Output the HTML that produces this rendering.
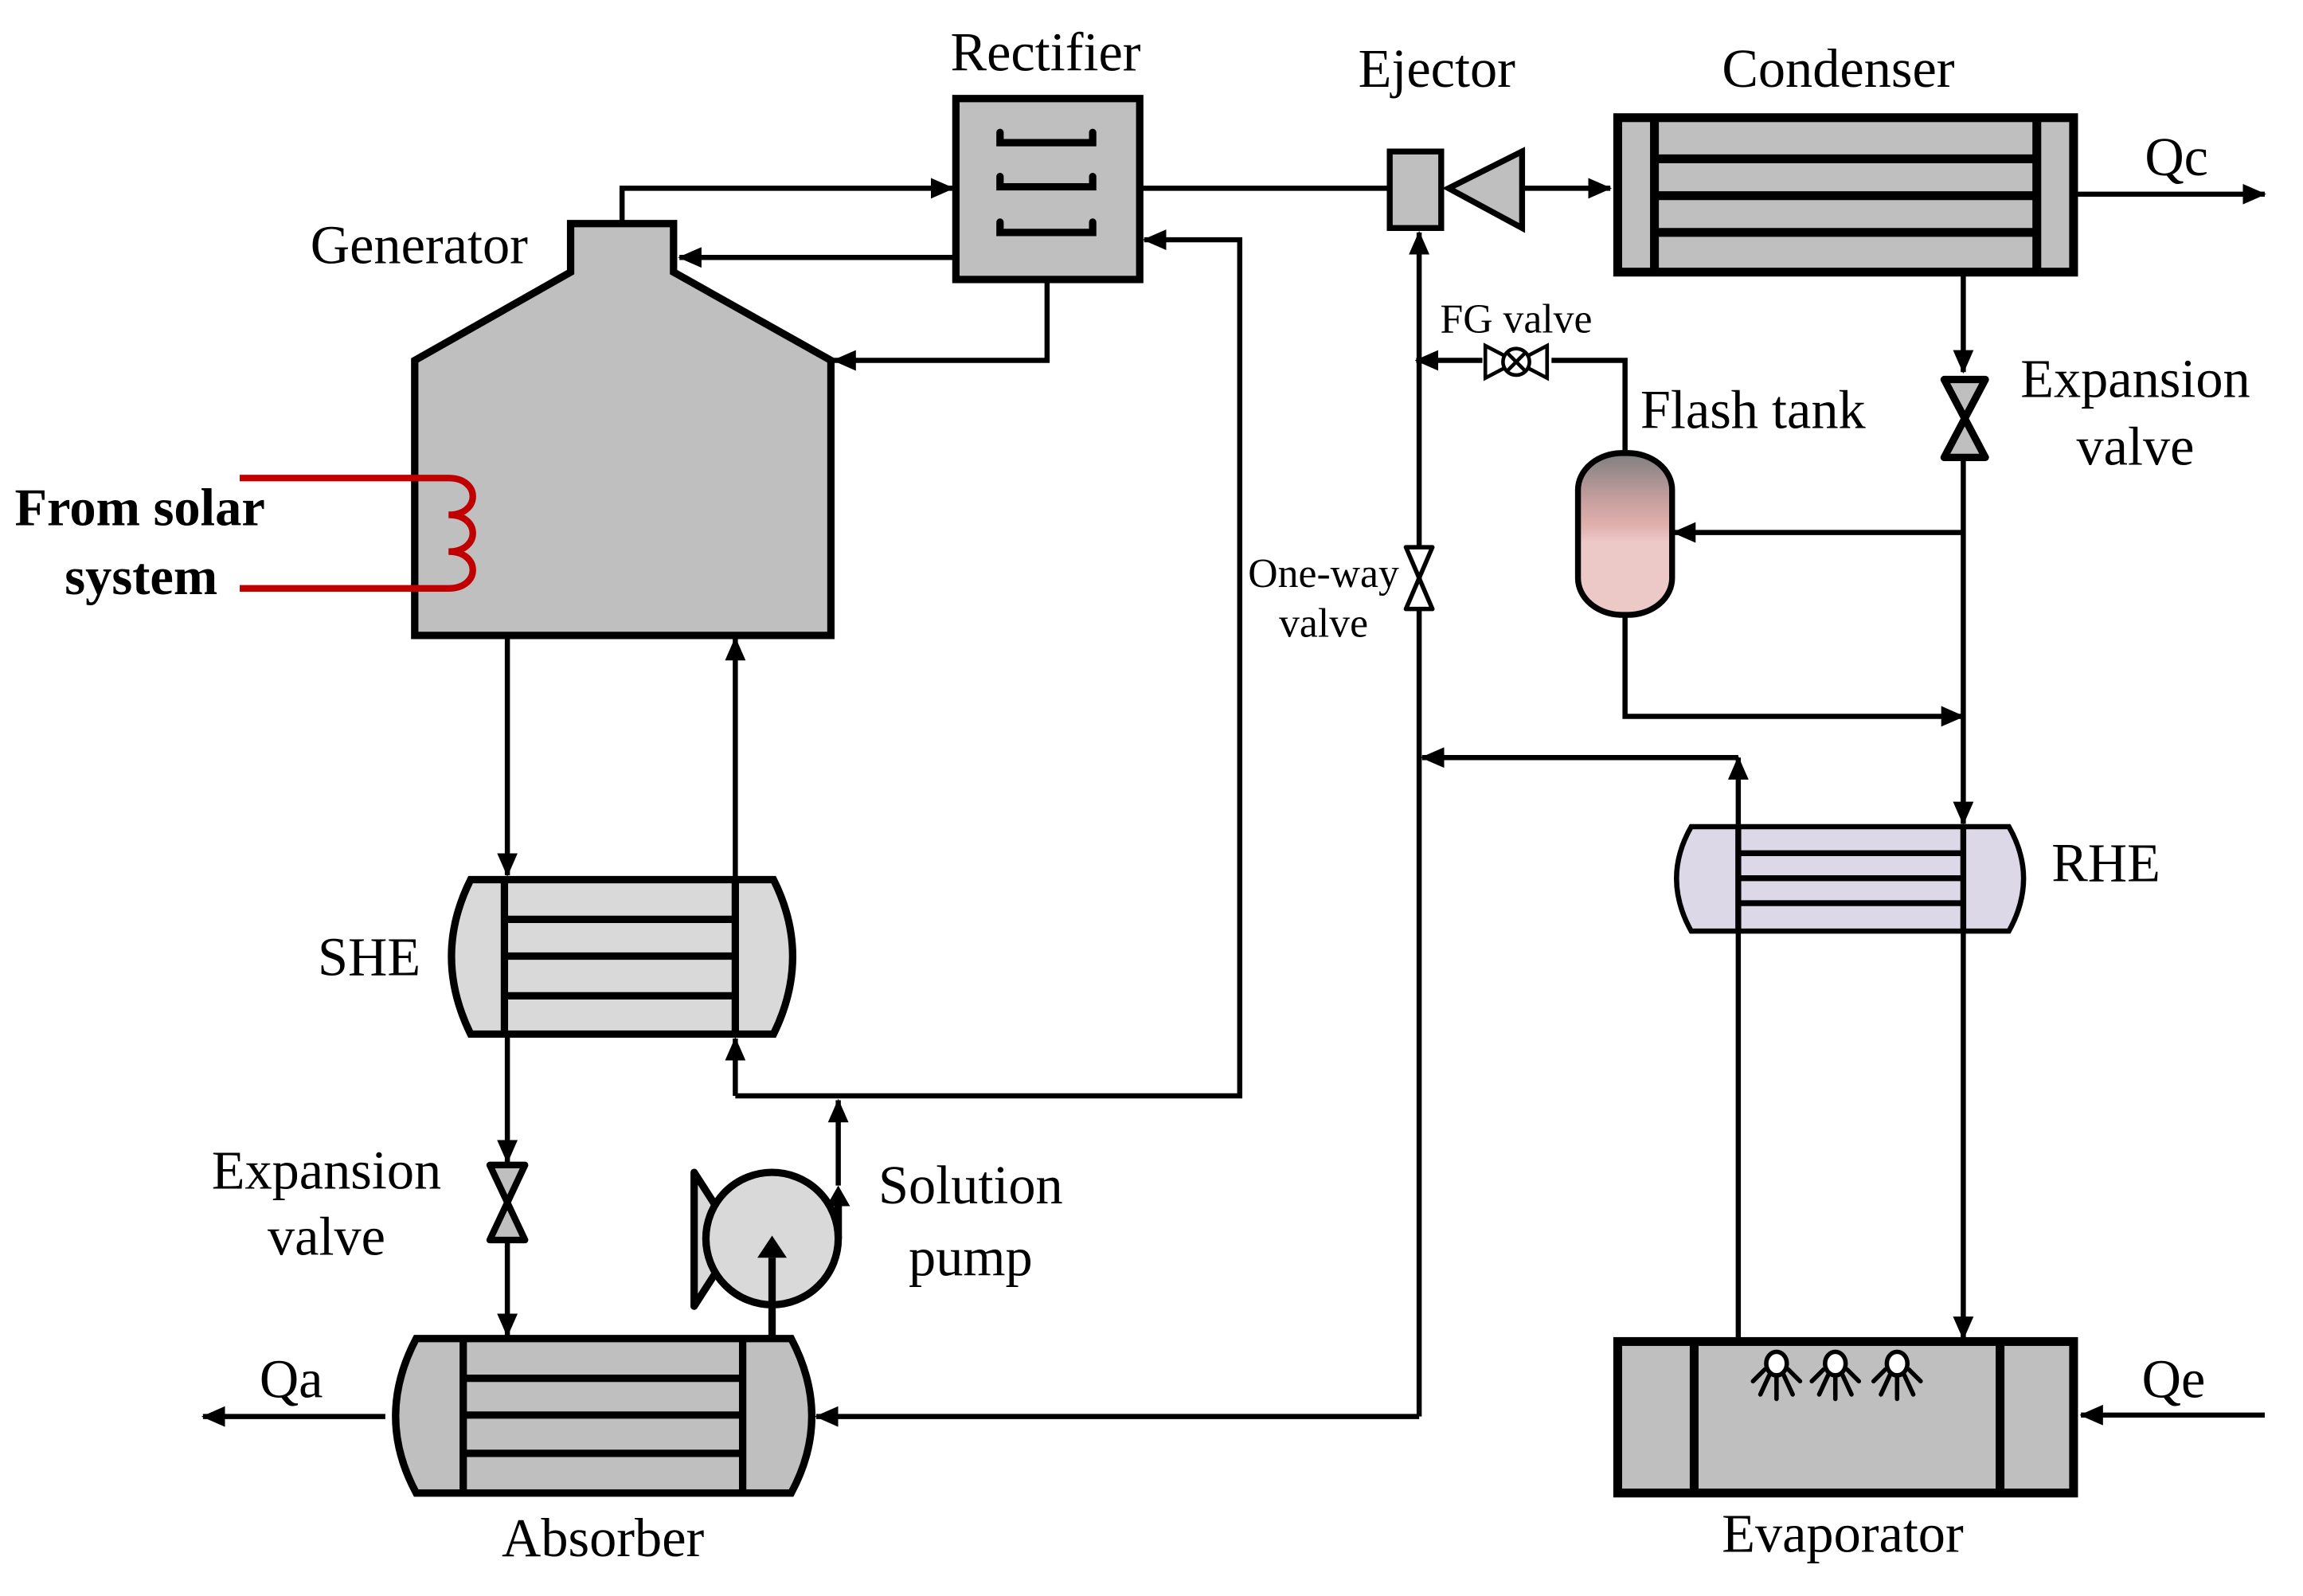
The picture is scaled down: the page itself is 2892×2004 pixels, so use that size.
<!DOCTYPE html>
<html><head><meta charset="utf-8"><style>
html,body{margin:0;padding:0;background:#fff;}
svg{display:block;}
text{font-family:"Liberation Serif",serif;fill:#000;}
</style></head><body>
<svg width="2892" height="2004" viewBox="0 0 1566 1085" preserveAspectRatio="none" xmlns="http://www.w3.org/2000/svg">
<defs>
<marker id="a" markerUnits="userSpaceOnUse" markerWidth="16" markerHeight="14" refX="15" refY="7" orient="auto">
<path d="M0,0 L16,7 L0,14 Z" fill="#000"/></marker>
<linearGradient id="ft" x1="0" y1="0" x2="0" y2="1">
<stop offset="0" stop-color="#7f7f7f"/><stop offset="0.3" stop-color="#c9a0a0"/><stop offset="0.45" stop-color="#e0b0ad"/><stop offset="0.55" stop-color="#ecc9c7"/><stop offset="1" stop-color="#ecc9c7"/></linearGradient>
</defs>
<g fill="none" stroke="#000" stroke-width="3.5">
<polyline points="423,152 423,128 648,128" marker-end="url(#a)"/>
<polyline points="648,175 462,175" marker-end="url(#a)"/>
<polyline points="712,190 712,245 567,245" marker-end="url(#a)"/>
<polyline points="500,745 843,745 843,163 778,163" marker-end="url(#a)"/>
<polyline points="500,745 500,706" marker-end="url(#a)"/>
<polyline points="570,806 570,748" marker-end="url(#a)"/>
<polyline points="345,432 345,595" marker-end="url(#a)"/>
<polyline points="500,598 500,434" marker-end="url(#a)"/>
<polyline points="345,703 345,790" marker-end="url(#a)"/>
<polyline points="345,845 345,908" marker-end="url(#a)"/>
<polyline points="262,963 138,963" marker-end="url(#a)"/>
<line x1="775" y1="128" x2="945" y2="128"/>
<polyline points="1035,128 1095,128" marker-end="url(#a)"/>
<polyline points="1412,132 1540,132" marker-end="url(#a)"/>
<polyline points="1335,185 1335,253" marker-end="url(#a)"/>
<polyline points="1335,313 1335,560" marker-end="url(#a)"/>
<polyline points="1335,362 1138,362" marker-end="url(#a)"/>
<polyline points="1105,308 1105,245 1055,245"/>
<polyline points="1008,245 963,245" marker-end="url(#a)"/>
<polyline points="1105,418 1105,487 1335,487" marker-end="url(#a)"/>
<polyline points="965,963 965,158" marker-end="url(#a)"/>
<polyline points="1182,912 1182,515" marker-end="url(#a)"/>
<polyline points="1182,515 967,515" marker-end="url(#a)"/>
<polyline points="965,963 555,963" marker-end="url(#a)"/>
<polyline points="1335,633 1335,910" marker-end="url(#a)"/>
<polyline points="1540,962 1415,962" marker-end="url(#a)"/>
</g>
<rect x="650" y="67" width="125" height="123" fill="#bfbfbf" stroke="#000" stroke-width="5"/>
<g fill="none" stroke="#000" stroke-width="5" stroke-linecap="round">
<path d="M680,90 V97 H743 V90"/><path d="M680,120 V127 H743 V120"/><path d="M680,151 V158 H743 V151"/>
</g>
<polygon points="388,152 458,152 458,185 565,245 565,432 282,432 282,245 388,185" fill="#bfbfbf" stroke="#000" stroke-width="5"/>
<path d="M163,325 H305 c22,0 22,25 0,25 c22,0 22,25 0,25 c22,0 22,25 0,25 H163" fill="none" stroke="#c00000" stroke-width="4.5"/>
<path d="M320,598 H526 Q552,650 526,703 H320 Q294,650 320,598 Z" fill="#d9d9d9" stroke="#000" stroke-width="5"/>
<g stroke="#000" stroke-width="5"><line x1="343" y1="598" x2="343" y2="703"/><line x1="500" y1="598" x2="500" y2="703"/>
<line x1="343" y1="625" x2="500" y2="625"/><line x1="343" y1="650" x2="500" y2="650"/><line x1="343" y1="677" x2="500" y2="677"/></g>
<path d="M333,792 H357 L333,843 H357 Z" fill="#bfbfbf" stroke="#000" stroke-width="4.5" stroke-linejoin="round"/>
<path d="M283,910 H538 Q566,963 538,1015 H283 Q255,963 283,910 Z" fill="#bfbfbf" stroke="#000" stroke-width="5"/>
<g stroke="#000" stroke-width="5"><line x1="315" y1="910" x2="315" y2="1015"/><line x1="505" y1="910" x2="505" y2="1015"/>
<line x1="315" y1="937" x2="505" y2="937"/><line x1="315" y1="962" x2="505" y2="962"/><line x1="315" y1="988" x2="505" y2="988"/></g>
<polygon points="472,797 490,825 490,860 472,888" fill="#d9d9d9" stroke="#000" stroke-width="5" stroke-linejoin="round"/>
<ellipse cx="525" cy="842" rx="45" ry="45" fill="#d9d9d9" stroke="#000" stroke-width="5"/>
<line x1="570" y1="842" x2="570" y2="815" stroke="#000" stroke-width="5"/>
<polygon points="570,806 562,820 578,820" fill="#000"/>
<line x1="525" y1="910" x2="525" y2="855" stroke="#000" stroke-width="5"/>
<polygon points="525,840 515,855 535,855" fill="#000"/>
<rect x="945" y="103" width="35" height="52" fill="#bfbfbf" stroke="#000" stroke-width="4"/>
<polygon points="985,128 1035,103 1035,155" fill="#bfbfbf" stroke="#000" stroke-width="4"/>
<rect x="1100" y="80" width="310" height="105" fill="#bfbfbf" stroke="#000" stroke-width="6"/>
<g stroke="#000" stroke-width="6"><line x1="1125" y1="80" x2="1125" y2="185"/><line x1="1385" y1="80" x2="1385" y2="185"/>
<line x1="1125" y1="108" x2="1385" y2="108"/><line x1="1125" y1="133" x2="1385" y2="133"/><line x1="1125" y1="158" x2="1385" y2="158"/></g>
<path d="M1322,258 H1350 L1322,311 H1350 Z" fill="#bfbfbf" stroke="#000" stroke-width="5" stroke-linejoin="round"/>
<path d="M1010,235 L1010,257 L1052,235 L1052,257 Z" fill="#fff" stroke="#000" stroke-width="2.5"/>
<circle cx="1031" cy="246" r="9" fill="#fff" stroke="#000" stroke-width="2.5"/>
<path d="M1025,240 L1037,252 M1037,240 L1025,252" stroke="#000" stroke-width="2.5"/>
<path d="M956,372 H974 L956,414 H974 Z" fill="#fff" stroke="#000" stroke-width="3" stroke-linejoin="round"/>
<rect x="1073" y="308" width="64" height="110" rx="30" ry="25" fill="url(#ft)" stroke="#000" stroke-width="4"/>
<path d="M1150,562 H1366 Q1386,597 1366,633 H1150 Q1130,597 1150,562 Z" fill="#dcd8e8" stroke="#000" stroke-width="3.5"/>
<g stroke="#000" stroke-width="4"><line x1="1182" y1="562" x2="1182" y2="633"/><line x1="1335" y1="562" x2="1335" y2="633"/>
<line x1="1182" y1="580" x2="1335" y2="580"/><line x1="1182" y1="597" x2="1335" y2="597"/><line x1="1182" y1="614" x2="1335" y2="614"/></g>
<rect x="1100" y="912" width="310" height="103" fill="#bfbfbf" stroke="#000" stroke-width="6"/>
<g stroke="#000" stroke-width="6"><line x1="1152" y1="912" x2="1152" y2="1015"/><line x1="1360" y1="912" x2="1360" y2="1015"/></g>
<g stroke="#000" stroke-width="3" fill="#fff" stroke-linecap="round">
<g transform="translate(1208,0)"><ellipse cx="0" cy="927" rx="7" ry="8"/><path d="M0,936 V951 M-5,935 L-11,948 M5,935 L11,948 M-8,931 L-16,939 M8,931 L16,939"/></g>
<g transform="translate(1248,0)"><ellipse cx="0" cy="927" rx="7" ry="8"/><path d="M0,936 V951 M-5,935 L-11,948 M5,935 L11,948 M-8,931 L-16,939 M8,931 L16,939"/></g>
<g transform="translate(1290,0)"><ellipse cx="0" cy="927" rx="7" ry="8"/><path d="M0,936 V951 M-5,935 L-11,948 M5,935 L11,948 M-8,931 L-16,939 M8,931 L16,939"/></g>
</g>
<g font-size="37">
<text x="711" y="48" text-anchor="middle">Rectifier</text>
<text x="285" y="179" text-anchor="middle">Generator</text>
<text x="977" y="59" text-anchor="middle">Ejector</text>
<text x="1250" y="59" text-anchor="middle">Condenser</text>
<text x="1480" y="119" text-anchor="middle">Qc</text>
<text x="1452" y="270" text-anchor="middle">Expansion</text>
<text x="1452" y="316" text-anchor="middle">valve</text>
<text x="1192" y="291" text-anchor="middle">Flash tank</text>
<text x="1432" y="599" text-anchor="middle">RHE</text>
<text x="251" y="663" text-anchor="middle">SHE</text>
<text x="222" y="808" text-anchor="middle">Expansion</text>
<text x="222" y="853" text-anchor="middle">valve</text>
<text x="660" y="818" text-anchor="middle">Solution</text>
<text x="660" y="867" text-anchor="middle">pump</text>
<text x="198" y="950" text-anchor="middle">Qa</text>
<text x="410" y="1058" text-anchor="middle">Absorber</text>
<text x="1253" y="1055" text-anchor="middle">Evaporator</text>
<text x="1478" y="950" text-anchor="middle">Qe</text>
<text x="10" y="357" font-weight="bold" font-size="36">From solar</text>
<text x="44" y="404" font-weight="bold" font-size="36">system</text>
</g>
<text x="1031" y="226" font-size="28" text-anchor="middle">FG valve</text>
<text x="900" y="399" font-size="28" text-anchor="middle">One-way</text>
<text x="900" y="433" font-size="28" text-anchor="middle">valve</text>
</svg>
</body></html>
